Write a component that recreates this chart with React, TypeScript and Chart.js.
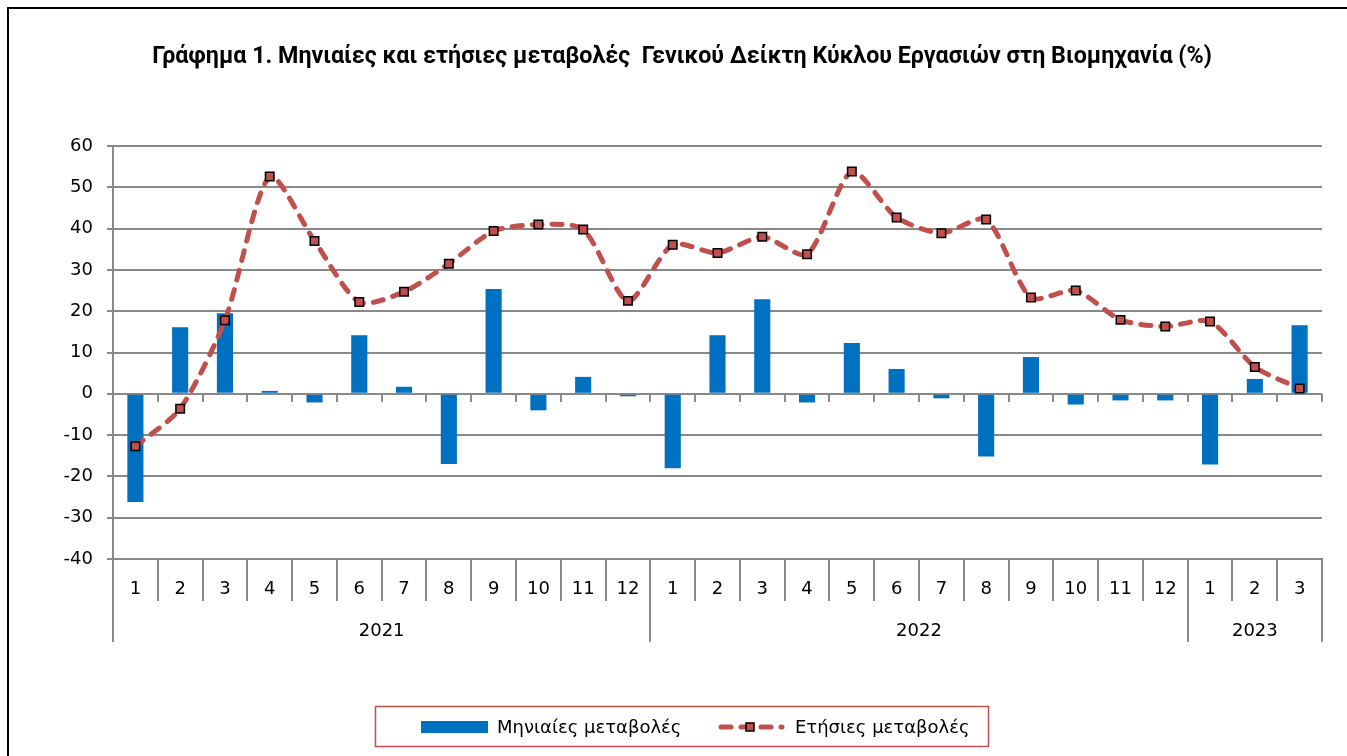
import React, { useEffect, useRef } from 'react';
import { Chart, registerables } from 'chart.js';

Chart.register(...registerables);

const TITLE = 'Γράφημα 1. Μηνιαίες και ετήσιες μεταβολές  Γενικού Δείκτη Κύκλου Εργασιών στη Βιομηχανία (%)';
const MONTHS = ['1', '2', '3', '4', '5', '6', '7', '8', '9', '10', '11', '12', '1', '2', '3', '4', '5', '6', '7', '8', '9', '10', '11', '12', '1', '2', '3'];
const YEARS = ['2021', '2022', '2023'];
const YEAR_SPANS = [12, 12, 3];
const SERIES_NAMES = ['Μηνιαίες μεταβολές', 'Ετήσιες μεταβολές'];
const MONTHLY = [-26.2, 16.1, 19.5, 0.7, -2.1, 14.2, 1.7, -17.0, 25.4, -4.0, 4.1, -0.6, -18.0, 14.2, 22.9, -2.1, 12.3, 6.0, -1.1, -15.2, 8.9, -2.6, -1.6, -1.6, -17.1, 3.6, 16.6];
const ANNUAL = [-12.7, -3.6, 17.8, 52.6, 37.0, 22.2, 24.7, 31.5, 39.4, 41.0, 39.8, 22.5, 36.1, 34.1, 38.0, 33.8, 53.8, 42.7, 38.9, 42.2, 23.3, 25.0, 17.9, 16.3, 17.5, 6.5, 1.3];
const Y_MIN = -40;
const Y_MAX = 60;
const Y_STEP = 10;

const BLUE = '#0070C0';
const RED = '#C0504D';
const GRID = '#898989';
const FONT = '"DejaVu Sans", sans-serif';
const TITLE_FAMILY = 'Roboto, "DejaVu Sans", sans-serif';

const W = 1347;
const H = 756;

const decorPlugin = {
  id: 'excelDecor',
  afterDraw(chart: any) {
    const { ctx, chartArea, scales } = chart;
    const xs = scales.x;
    const ys = scales.y;
    const n = chart.data.labels.length;
    const bnd = (i: number) =>
      i === 0 ? chartArea.left : i === n ? chartArea.right : (xs.getPixelForValue(i - 1) + xs.getPixelForValue(i)) / 2;
    const bottom = chartArea.bottom;
    const zeroY = Math.round(ys.getPixelForValue(0));

    ctx.save();
    // outer frame
    ctx.fillStyle = '#000';
    ctx.fillRect(7, 7, 2, H - 7);
    ctx.fillRect(7, 7, W - 7, 2);

    ctx.strokeStyle = GRID;
    ctx.lineWidth = 2;
    // tick marks on zero line
    for (let i = 1; i <= n; i++) {
      const px = Math.round(bnd(i));
      ctx.beginPath();
      ctx.moveTo(px, zeroY);
      ctx.lineTo(px, zeroY + 8);
      ctx.stroke();
    }
    // month separators
    for (let i = 1; i < n; i++) {
      const px = Math.round(bnd(i));
      ctx.beginPath();
      ctx.moveTo(px, bottom);
      ctx.lineTo(px, bottom + 42);
      ctx.stroke();
    }
    // year separators
    let acc = 0;
    const yb = [0];
    YEAR_SPANS.forEach((s) => { acc += s; yb.push(acc); });
    yb.forEach((b) => {
      const px = Math.round(bnd(b));
      ctx.beginPath();
      ctx.moveTo(px, bottom - 1);
      ctx.lineTo(px, bottom + 83);
      ctx.stroke();
    });

    // month labels
    ctx.fillStyle = '#000';
    ctx.font = `18px ${FONT}`;
    ctx.textAlign = 'center';
    ctx.textBaseline = 'middle';
    chart.data.labels.forEach((lab: string, i: number) => {
      ctx.fillText(lab, xs.getPixelForValue(i), bottom + 30);
    });
    // year labels
    YEARS.forEach((yl, k) => {
      const cx = (bnd(yb[k]) + bnd(yb[k + 1])) / 2;
      ctx.fillText(yl, cx, bottom + 72);
    });

    // legend
    const ds = chart.data.datasets;
    const barDs = ds[0];
    const lineDs = ds[1];
    const ly = 727;
    ctx.strokeStyle = RED;
    ctx.lineWidth = 1.5;
    ctx.strokeRect(375.5, 706.5, 613, 40);

    ctx.fillStyle = barDs.backgroundColor;
    ctx.fillRect(421, ly - 6, 67, 12);
    ctx.fillStyle = '#000';
    ctx.textAlign = 'left';
    ctx.fillText(barDs.label, 497, ly + 1);

    ctx.strokeStyle = lineDs.borderColor;
    ctx.lineWidth = lineDs.borderWidth;
    ctx.lineCap = 'round';
    ctx.setLineDash(lineDs.borderDash);
    ctx.beginPath();
    ctx.moveTo(721, ly);
    ctx.lineTo(782, ly);
    ctx.stroke();
    ctx.setLineDash([]);
    ctx.fillStyle = lineDs.pointBackgroundColor;
    ctx.strokeStyle = lineDs.pointBorderColor;
    ctx.lineWidth = lineDs.pointBorderWidth;
    ctx.fillRect(746, ly - 4, 8, 8);
    ctx.strokeRect(746, ly - 4, 8, 8);
    ctx.fillStyle = '#000';
    ctx.fillText(lineDs.label, 795, ly + 1);
    ctx.restore();
  },
};

export default function App() {
  const ref = useRef<HTMLCanvasElement | null>(null);

  useEffect(() => {
    const canvas = ref.current;
    if (!canvas) return;

    // fit title width to the reference (~1060px)
    const mctx = document.createElement('canvas').getContext('2d')!;
    mctx.font = `bold 20px ${TITLE_FAMILY}`;
    const tw = mctx.measureText(TITLE).width || 1060;
    const titleSize = Math.max(14, Math.min(24, (20 * 1060) / tw));
    const lh = titleSize * 1.2;
    const tTop = 57 - lh / 2;
    const tBottom = 146 - tTop - lh;

    const chart = new Chart(canvas, {
      type: 'bar',
      data: {
        labels: MONTHS,
        datasets: [
          {
            type: 'bar',
            label: SERIES_NAMES[0],
            data: MONTHLY,
            backgroundColor: BLUE,
            borderWidth: 0,
            barPercentage: 0.36,
            categoryPercentage: 1.0,
            order: 2,
          } as any,
          {
            type: 'line',
            label: SERIES_NAMES[1],
            data: ANNUAL,
            borderColor: RED,
            borderWidth: 5,
            borderDash: [10, 10],
            borderCapStyle: 'round',
            tension: 0.25,
            fill: false,
            pointStyle: 'rect',
            pointRadius: 6,
            pointBackgroundColor: RED,
            pointBorderColor: '#000',
            pointBorderWidth: 1.5,
            order: 1,
          } as any,
        ],
      },
      options: {
        responsive: false,
        animation: false,
        devicePixelRatio: 1,
        layout: { padding: { left: 42, right: 25, top: 0, bottom: 97 } },
        plugins: {
          legend: { display: false },
          tooltip: { enabled: false },
          title: {
            display: true,
            text: TITLE,
            color: '#000',
            font: { family: TITLE_FAMILY, size: titleSize, weight: 'bold', lineHeight: 1.2 },
            padding: { top: tTop, bottom: tBottom },
          },
        },
        scales: {
          x: {
            type: 'category',
            offset: true,
            grid: { display: false, offset: true },
            border: { display: false },
            ticks: { display: false },
            afterFit: (scale: any) => { scale.height = 100; },
          },
          y: {
            min: Y_MIN,
            max: Y_MAX,
            ticks: {
              stepSize: Y_STEP,
              color: '#000',
              font: { family: FONT, size: 18 },
              padding: 14,
            },
            grid: { color: GRID, lineWidth: 2, tickLength: 6, drawTicks: true },
            border: { display: true, color: GRID, width: 2 },
            afterFit: (scale: any) => { scale.width = 71; },
          },
        },
      } as any,
      plugins: [decorPlugin],
    });

    return () => chart.destroy();
  }, []);

  return (
    <div style={{ position: 'absolute', left: 0, top: 0, width: W, height: H, background: '#fff' }}>
      <canvas ref={ref} width={W} height={H} style={{ width: W, height: H, display: 'block' }} />
    </div>
  );
}
